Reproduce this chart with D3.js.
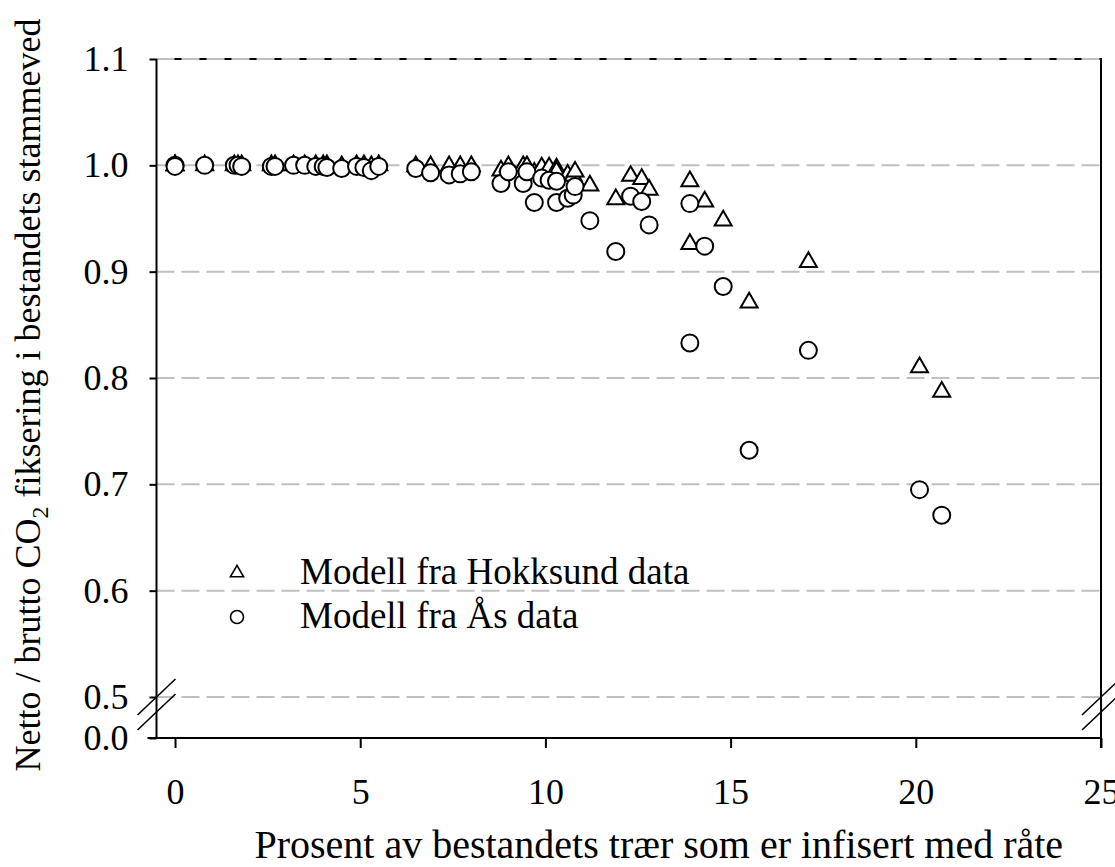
<!DOCTYPE html>
<html><head><meta charset="utf-8">
<script src="https://cdn.jsdelivr.net/npm/d3@7/dist/d3.min.js"></script>
<style>
body{margin:0;background:#fff}
text{font-family:"Liberation Serif","Times New Roman",serif;fill:#000}
</style>
</head><body>
<svg id="chart" width="1115" height="867"></svg>
<script>
// Percent of trees infected (shared by both model series)
const xValues = [0, 0, 0.8, 1.6, 1.7, 1.8, 2.6, 2.7, 3.2, 3.5, 3.8, 4.0, 4.1, 4.5, 4.9, 5.1, 5.3, 5.5,
  6.5, 6.9, 7.4, 7.7, 8.0, 8.8, 9.0, 9.4, 9.5, 9.7, 9.9, 10.1, 10.3, 10.3, 10.6, 10.75, 10.8,
  11.2, 11.9, 12.3, 12.6, 12.8, 13.9, 13.9, 14.3, 14.8, 15.5, 17.1, 20.1, 20.7];
// Model from Hokksund data (triangles)
const hokksund = [1.000, 1.000, 1.000, 1.000, 1.000, 1.000, 1.000, 1.000, 1.000, 1.000, 1.000, 1.000, 1.000, 0.999, 1.000, 1.000, 0.999, 1.000,
  0.999, 0.999, 0.999, 0.999, 0.999, 0.995, 0.999, 0.999, 0.999, 0.993, 0.998, 0.998, 0.997, 0.994, 0.991, 0.990, 0.994,
  0.981, 0.968, 0.990, 0.987, 0.977, 0.985, 0.926, 0.966, 0.948, 0.871, 0.909, 0.810, 0.787];
// Model from Ås data (circles)
const aas = [1.000, 0.999, 1.000, 1.000, 1.000, 0.999, 0.999, 0.999, 1.000, 1.000, 0.999, 0.999, 0.998, 0.997, 0.999, 0.998, 0.995, 0.999,
  0.997, 0.993, 0.991, 0.992, 0.994, 0.983, 0.994, 0.983, 0.994, 0.965, 0.988, 0.986, 0.985, 0.965, 0.969, 0.972, 0.980,
  0.948, 0.919, 0.971, 0.966, 0.944, 0.964, 0.833, 0.924, 0.886, 0.732, 0.826, 0.695, 0.671];

const xTicks = [0, 5, 10, 15, 20, 25];
const yTicks = [0.0, 0.5, 0.6, 0.7, 0.8, 0.9, 1.0, 1.1];
const gridValues = [0.5, 0.6, 0.7, 0.8, 0.9, 1.0, 1.1];
const seriesNames = ["Modell fra Hokksund data", "Modell fra Ås data"];
const xTitle = "Prosent av bestandets trær som er infisert med råte";

(function () {
const svg = d3.select("#chart");
svg.append("rect").attr("width", 1115).attr("height", 867).attr("fill", "#fff");

const x = d3.scaleLinear().domain([-0.5, 25]).range([156.5, 1101]);
// broken axis: 0.0 .. 0.5 compressed
const y = d3.scaleLinear().domain([0, 0.5, 1.1]).range([738, 697, 59]);

const pLeft = x(-0.5), pRight = x(25), pTop = y(1.1), pBottom = y(0);

// top frame (black) under the gridlines
svg.append("line").attr("x1", pLeft).attr("x2", pRight).attr("y1", pTop).attr("y2", pTop)
  .attr("stroke", "#000").attr("stroke-width", 2);

// gridlines
svg.append("g").selectAll("line").data(gridValues).join("line")
  .attr("x1", pLeft).attr("x2", pRight)
  .attr("y1", d => y(d)).attr("y2", d => y(d))
  .attr("stroke", "#c0c0c0").attr("stroke-width", 2).attr("stroke-dasharray", "18,7");

// x axis
const xAxis = svg.append("g").attr("transform", `translate(0,${pBottom})`)
  .call(d3.axisBottom(x).tickValues(xTicks).tickSize(10).tickPadding(30).tickFormat(d3.format("d")));
xAxis.select(".domain").remove();
xAxis.selectAll(".tick line").attr("stroke", "#000").attr("stroke-width", 2);
xAxis.selectAll(".tick text").attr("font-size", 36).attr("font-family", "Liberation Serif");
svg.append("line").attr("x1", pLeft - 9).attr("x2", pRight).attr("y1", pBottom).attr("y2", pBottom)
  .attr("stroke", "#000").attr("stroke-width", 2);

// y axis
const yAxis = svg.append("g").attr("transform", `translate(${pLeft},0)`)
  .call(d3.axisLeft(y).tickValues(yTicks).tickSize(7).tickPadding(21).tickFormat(d3.format(".1f")));
yAxis.select(".domain").remove();
yAxis.selectAll(".tick line").attr("stroke", "#000").attr("stroke-width", 2);
yAxis.selectAll(".tick text").attr("font-size", 36).attr("font-family", "Liberation Serif");
svg.append("line").attr("x1", pLeft).attr("x2", pLeft).attr("y1", pTop).attr("y2", pBottom)
  .attr("stroke", "#000").attr("stroke-width", 2);
// right frame
svg.append("line").attr("x1", pRight).attr("x2", pRight).attr("y1", pTop - 1).attr("y2", pBottom + 10)
  .attr("stroke", "#000").attr("stroke-width", 2);

// axis break marks
const breakYs = [y(0.5), y(0.5) + 15];
[pLeft, pRight].forEach(cx => {
  breakYs.forEach(cy => {
    svg.append("line").attr("x1", cx - 19).attr("y1", cy + 18).attr("x2", cx + 19).attr("y2", cy - 18)
      .attr("stroke", "#000").attr("stroke-width", 1.6);
  });
});

// data
const tri = d3.symbol().type(d3.symbolTriangle).size(125);
svg.append("g").selectAll("path").data(xValues.map((v, i) => [v, hokksund[i]])).join("path")
  .attr("d", tri).attr("transform", d => `translate(${x(d[0])},${y(d[1])})`)
  .attr("fill", "#fff").attr("stroke", "#000").attr("stroke-width", 2);
svg.append("g").selectAll("circle").data(xValues.map((v, i) => [v, aas[i]])).join("circle")
  .attr("cx", d => x(d[0])).attr("cy", d => y(d[1])).attr("r", 8.5)
  .attr("fill", "#fff").attr("stroke", "#000").attr("stroke-width", 2);

// legend
const lg = svg.append("g");
lg.append("path").attr("d", d3.symbol().type(d3.symbolTriangle).size(75)())
  .attr("transform", "translate(237,573)").attr("fill", "#fff").attr("stroke", "#000").attr("stroke-width", 1.6);
lg.append("circle").attr("cx", 237).attr("cy", 617).attr("r", 6.5)
  .attr("fill", "#fff").attr("stroke", "#000").attr("stroke-width", 1.6);
lg.selectAll("text").data(seriesNames).join("text")
  .attr("x", 300).attr("y", (d, i) => 584 + i * 44).attr("font-size", 37).text(d => d);

// axis titles
svg.append("text").attr("x", (pLeft + pRight) / 2 + 30).attr("y", 858).attr("text-anchor", "middle")
  .attr("font-size", 40).text(xTitle);
const yt = svg.append("text").attr("transform", "translate(40,395) rotate(-90)")
  .attr("text-anchor", "middle").attr("font-size", 36);
yt.append("tspan").text("Netto / brutto CO");
yt.append("tspan").attr("font-size", 24).attr("dy", 8).text("2");
yt.append("tspan").attr("dy", -8).text(" fiksering i bestandets stammeved");
})();
</script>
</body></html>
